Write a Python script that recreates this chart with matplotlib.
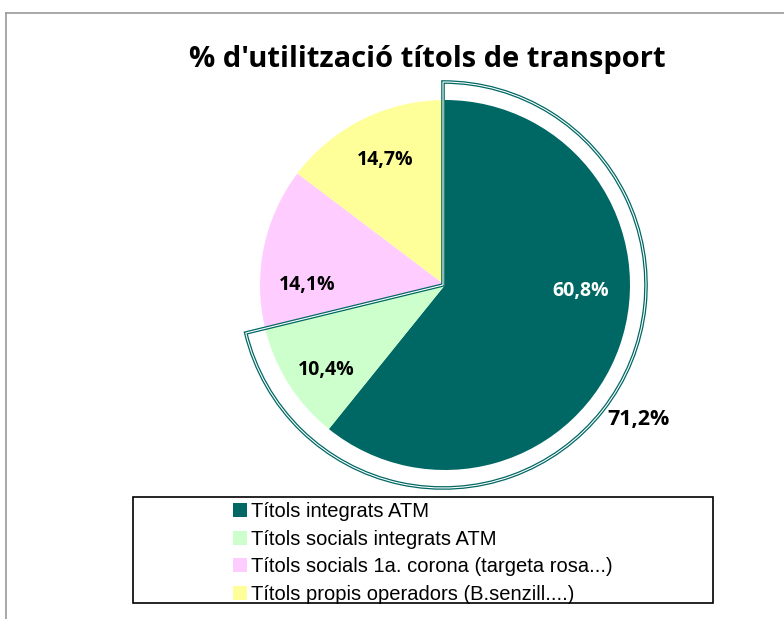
import matplotlib
matplotlib.use("Agg")
import matplotlib.pyplot as plt
from matplotlib.patches import Wedge, Rectangle
from matplotlib.lines import Line2D
import numpy as np

title = "% d'utilització títols de transport"
categories = ["Títols integrats ATM", "Títols socials integrats ATM",
              "Títols socials 1a. corona (targeta rosa...)",
              "Títols propis operadors (B.senzill....)"]
values = [60.8, 10.4, 14.1, 14.7]
value_labels = ["60,8%", "10,4%", "14,1%", "14,7%"]
group_label = "71,2%"
colors = ["#006864", "#CCFFCC", "#FFCCFF", "#FFFF99"]
label_colors = ["white", "black", "black", "black"]

W, H = 784, 619
fig = plt.figure(figsize=(W / 100, H / 100), dpi=100)
ax = fig.add_axes([0, 0, 1, 1])

def py(y):
    return H - y

cx, cy, R = 445, py(285), 185
wedges, _ = ax.pie(values, colors=colors, startangle=90, counterclock=False,
                   center=(cx, cy), radius=R, frame=True,
                   wedgeprops=dict(linewidth=0))
ax.set_xlim(0, W)
ax.set_ylim(0, H)
ax.set_aspect("equal")
ax.axis("off")

# labels (layout positions in pixels)
label_pos = [(581, 291), (326, 370), (307, 285), (385, 160)]
for (x, y), t, c in zip(label_pos, value_labels, label_colors):
    ax.text(x, py(y), t, ha="center", va="center", fontsize=14,
            fontweight="bold", color=c, family="Open Sans")

# outline around first two slices
start = 90
end = 90 - (values[0] + values[1]) * 3.6
Ro = 203
w1 = Wedge((cx - 2, cy), Ro, end, start, facecolor="none",
           edgecolor="#006864", linewidth=2.6, joinstyle="miter")
w2 = Wedge((cx - 2, cy), Ro, end, start, facecolor="none",
           edgecolor="white", linewidth=0.8, joinstyle="miter")
ax.add_patch(w1)
ax.add_patch(w2)
ax.text(639, py(419), group_label, ha="center", va="center", fontsize=15.5,
        fontweight="bold", color="black", family="Open Sans")

# title
fig.text(427 / W, 1 - 60 / H, title, ha="center", va="center", fontsize=21,
         fontweight="bold", family="Open Sans")

# frame lines
fig.add_artist(Line2D([6 / W, 6 / W], [0, 1 - 13 / H], color="#999999", lw=1.2))
fig.add_artist(Line2D([6 / W, 1], [1 - 13 / H, 1 - 13 / H], color="#999999", lw=1.2))

# legend box
ax.add_patch(Rectangle((133, py(603)), 580, 106, facecolor="white",
                       edgecolor="black", linewidth=1.2))
leg = ax.legend(wedges, categories, loc="center",
                bbox_to_anchor=((133 + 713) / 2 / W, 1 - 553 / H),
                bbox_transform=fig.transFigure, frameon=False,
                prop=dict(family="Liberation Sans", size=14.5),
                handlelength=0.7, handleheight=0.7, handletextpad=0.2,
                labelspacing=0.42, borderpad=0)

fig.savefig("out.png", dpi=100)
